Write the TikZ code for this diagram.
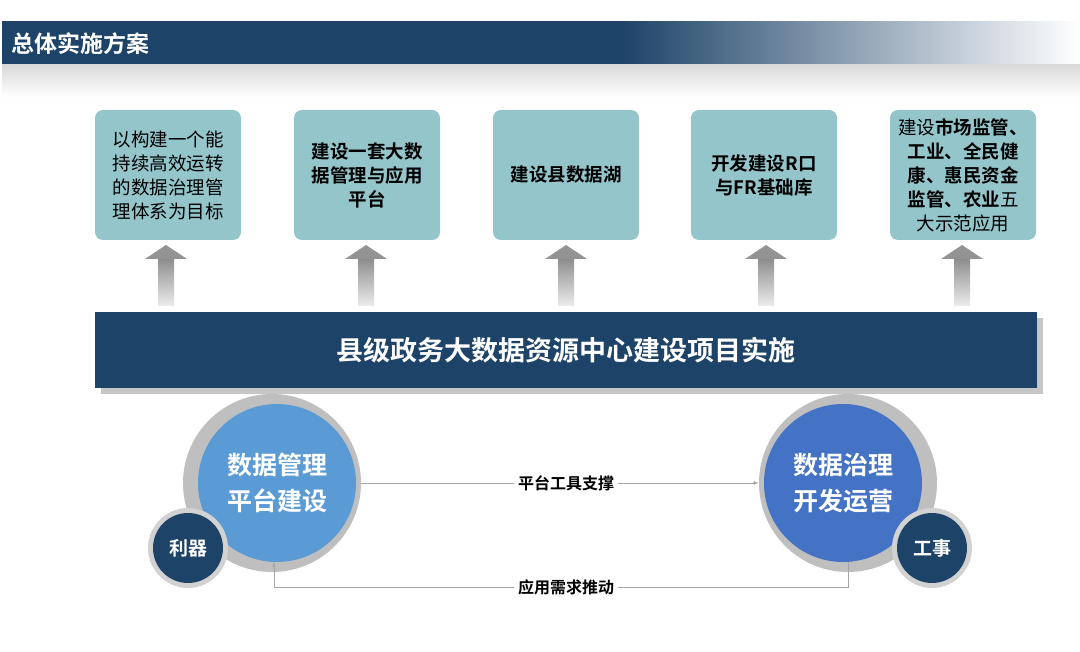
\documentclass[tikz,border=0pt]{standalone}
\usepackage{fontspec}
\newfontfamily\cjk{Noto Sans CJK SC}
\newfontfamily\cjkb{Noto Sans CJK SC Bold}
\usetikzlibrary{shadings}
\definecolor{navy}{HTML}{1D4368}
\definecolor{teal}{HTML}{93C5CB}
\definecolor{lb}{HTML}{5B9BD5}
\definecolor{db}{HTML}{4472C4}
\definecolor{ring}{HTML}{BFBFBF}
\begin{document}
\begin{tikzpicture}[x=1pt,y=-1pt,
  box/.style={fill=teal,rounded corners=8pt,minimum width=146pt,minimum height=130pt,inner sep=0pt,align=center,font=\cjkb\fontsize{18.5}{24}\selectfont},
  lbl/.style={fill=white,font=\cjkb\fontsize{16}{18}\selectfont,inner sep=4pt},
  conn/.style={draw=gray!70,line width=0.8pt,-{latex}}]
\useasboundingbox (0,0) rectangle (1080,652);
% title bar
\shade[top color=gray!30,bottom color=white] (2,64) rectangle (1080,98);
\shade[left color=navy,right color=navy] (2,22) rectangle (620,64);
\shade[left color=navy,right color=white] (620,22) rectangle (1080,64);
\node[anchor=west,text=white,font=\cjkb\fontsize{23}{25}\selectfont] (title) at (8,44) {总体实施方案};
% boxes
\node[box] (b1) at (168,175) {\cjk 以构建一个能\\\cjk 持续高效运转\\\cjk 的数据治理管\\\cjk 理体系为目标};
\node[box] (b2) at (367,175) {建设一套大数\\据管理与应用\\平台};
\node[box] (b3) at (566,175) {建设县数据湖};
\node[box] (b4) at (764,175) {开发建设R口\\与FR基础库};
\node[box,font=\cjk\fontsize{18.5}{24}\selectfont] (b5) at (963,175) {建设{\cjkb 市场监管、}\\{\cjkb 工业、全民健}\\{\cjkb 康、惠民资金}\\{\cjkb 监管、农业}五\\大示范应用};
% arrows
\foreach \x in {166,366,566,766,962}{
  \shade[top color=gray!90,bottom color=gray!15] (\x-8,258) rectangle (\x+8,306);
  \fill[gray!85] (\x-21,259) -- (\x,245) -- (\x+21,259) -- cycle;
}
% main bar
\fill[gray!45] (101,318) rectangle (1043,394);
\node[fill=navy,minimum width=942pt,minimum height=76pt,inner sep=0pt,text=white,font=\cjkb\fontsize{27}{29}\selectfont] (bar) at (566,350) {县级政务大数据资源中心建设项目实施};
% circles
\node[circle,fill=ring,minimum size=178pt] (lo) at (272,483) {};
\node[circle,fill=lb,minimum size=158pt,text=white,align=center,font=\cjkb\fontsize{25}{36}\selectfont] (lc) at (277,483) {数据管理\\平台建设};
\node[circle,fill=ring,minimum size=178pt] (ro) at (848,483) {};
\node[circle,fill=db,minimum size=158pt,text=white,align=center,font=\cjkb\fontsize{25}{36}\selectfont] (rc) at (843,483) {数据治理\\开发运营};
\node[circle,fill=ring!70,minimum size=80pt] (s1o) at (188,548) {};
\node[circle,fill=navy,minimum size=70pt,text=white,font=\cjkb\fontsize{19}{21}\selectfont] (s1) at (188,548) {利器};
\node[circle,fill=ring!70,minimum size=80pt] (s2o) at (932,548) {};
\node[circle,fill=navy,minimum size=70pt,text=white,font=\cjkb\fontsize{19}{21}\selectfont] (s2) at (932,548) {工事};
% connectors
\coordinate (c1) at (848,587);
\coordinate (c2) at (274,587);
\draw[conn] (lo.east) -- (ro.west);
\node[lbl] (t1) at (566,483) {平台工具支撑};
\draw[conn] (848,562) -- (c1) -- (c2) -- (274,562);
\node[lbl] (t2) at (566,587) {应用需求推动};
\end{tikzpicture}
\end{document}
